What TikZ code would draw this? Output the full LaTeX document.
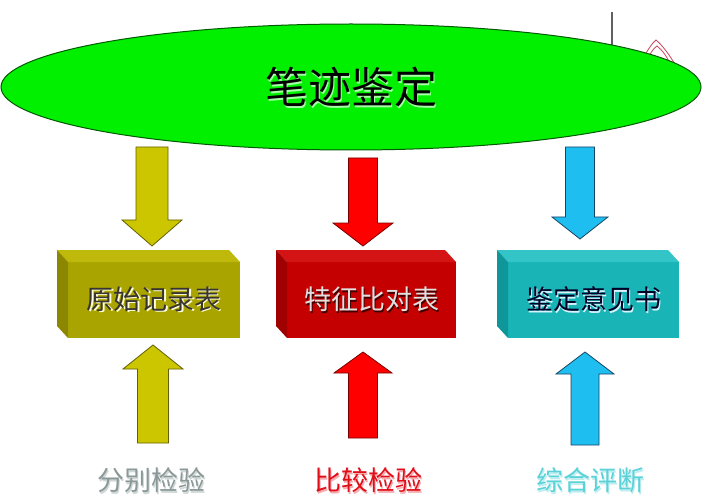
\documentclass[tikz,border=0pt]{standalone}
\usepackage{fontspec}
\newfontfamily\cjk{Noto Sans CJK SC}
\usetikzlibrary{shapes.geometric,calc}
\definecolor{ellgreen}{RGB}{0,240,0}
\definecolor{elledge}{RGB}{0,90,0}
\definecolor{yarrow}{RGB}{204,198,0}
\definecolor{yedge}{RGB}{100,96,0}
\definecolor{rarrow}{RGB}{255,0,0}
\definecolor{redge}{RGB}{120,0,0}
\definecolor{barrow}{RGB}{30,190,240}
\definecolor{bedge}{RGB}{25,70,100}
\definecolor{yfront}{RGB}{170,164,0}
\definecolor{ytop}{RGB}{190,185,10}
\definecolor{yside}{RGB}{140,135,0}
\definecolor{rfront}{RGB}{196,0,0}
\definecolor{rtop}{RGB}{212,20,20}
\definecolor{rside}{RGB}{160,0,0}
\definecolor{tfront}{RGB}{24,180,182}
\definecolor{ttop}{RGB}{50,196,198}
\definecolor{tside}{RGB}{14,150,152}
\definecolor{lblgray}{RGB}{138,152,152}
\definecolor{lblred}{RGB}{224,16,26}
\definecolor{lblcyan}{RGB}{90,210,216}
\definecolor{archred}{RGB}{200,70,90}
% text with a shadow, in one node: #1 shadow colour, #2 offset, #3 text
\newcommand\shadowtxt[3]{\makebox[0pt][l]{\hspace{#2}\raisebox{-#2}{\color{#1}#3}}#3}
\newcommand\blockarrow[7]{%
  \draw[#7] ({#1-#5},#2) -- ({#1+#5},#2) -- ({#1+#5},#3) -- ({#1+#6},#3)
    -- (#1,#4) -- ({#1-#6},#3) -- ({#1-#5},#3) -- cycle;}
\newcommand\threedbox[7]{% name, cx, cy, width, frontcol, topcol, sidecol
  \node[frontface, fill=#5, minimum width=#4pt] (#1) at (#2,#3) {};
  \fill[#6] (#1.north west) -- (#1.north east) -- ($(#1.north east)+(-11,-12)$)
     -- ($(#1.north west)+(-11,-12)$) -- cycle;
  \fill[#7] (#1.north west) -- (#1.south west) -- ($(#1.south west)+(-11,-12)$)
     -- ($(#1.north west)+(-11,-12)$) -- cycle;}
\tikzset{
  frontface/.style={draw=none, minimum height=76pt, inner sep=0, outer sep=0},
  boxtext/.style={font=\cjk\fontsize{27}{27}\selectfont, inner sep=0},
  lbltext/.style={font=\cjk\fontsize{27}{27}\selectfont, inner sep=0},
  yarr/.style={fill=yarrow, draw=yedge, line width=0.8pt, line join=miter},
  rarr/.style={fill=rarrow, draw=redge, line width=0.8pt, line join=miter},
  barr/.style={fill=barrow, draw=bedge, line width=0.8pt, line join=miter},
}
\begin{document}
\begin{tikzpicture}[x=1pt,y=-1pt]
\useasboundingbox (0,0) rectangle (702,500);
\fill[white] (0,0) rectangle (702,500);
% small decorations top right
\draw[gray!75!black, line width=1.4pt] (612,12) -- (612,50);
\draw[archred, line width=0.8pt] (643,58) .. controls (648,50) and (652,43) .. (656,40)
   .. controls (662,45) and (670,55) .. (677,68);
\draw[archred, line width=0.8pt] (648,58) .. controls (651,52) and (654,48) .. (657,46)
   .. controls (662,50) and (667,56) .. (671,66);
% ellipse
\node[ellipse, fill=ellgreen, draw=elledge, line width=1pt, minimum width=700pt,
  minimum height=126pt, inner sep=0] (ell) at (351,87) {};
\node[font=\cjk\fontsize{43}{43}\selectfont, text=black, inner sep=0] (title) at (351,88)
  {\shadowtxt{white!65!green}{1.8pt}{笔迹鉴定}};
% down arrows
\blockarrow{152}{147}{220}{246}{16}{30}{yarr}
\blockarrow{363}{158}{223}{246}{14.5}{30}{rarr}
\blockarrow{580}{147}{217}{239}{14.5}{28}{barr}
% boxes
\threedbox{b1}{154}{300}{172}{yfront}{ytop}{yside}
\threedbox{b2}{371.5}{300}{169}{rfront}{rtop}{rside}
\threedbox{b3}{593.5}{300}{171}{tfront}{ttop}{tside}
\node[boxtext, text=black!90!yellow] (t1) at (b1.center) {\shadowtxt{white!85!yellow}{1.5pt}{原始记录表}};
\node[boxtext, text=black!12] (t2) at (b2.center) {\shadowtxt{black!75!red}{1.5pt}{特征比对表}};
\node[boxtext, text=black!85!blue] (t3) at (b3.center) {\shadowtxt{white!85!cyan}{1.5pt}{鉴定意见书}};
% up arrows
\blockarrow{153}{443}{369}{345}{15.5}{30}{yarr}
\blockarrow{363}{438}{373}{352}{14.5}{29}{rarr}
\blockarrow{585}{445}{374}{352}{14}{29}{barr}
% labels
\node[lbltext, text=lblgray] (l1) at (151,481) {\shadowtxt{lblgray!40}{1.5pt}{分别检验}};
\node[lbltext, text=lblred] (l2) at (368,481) {\shadowtxt{lblred!35}{1.5pt}{比较检验}};
\node[lbltext, text=lblcyan] (l3) at (590,481) {\shadowtxt{lblcyan!40}{1.5pt}{综合评断}};
\end{tikzpicture}
\end{document}
